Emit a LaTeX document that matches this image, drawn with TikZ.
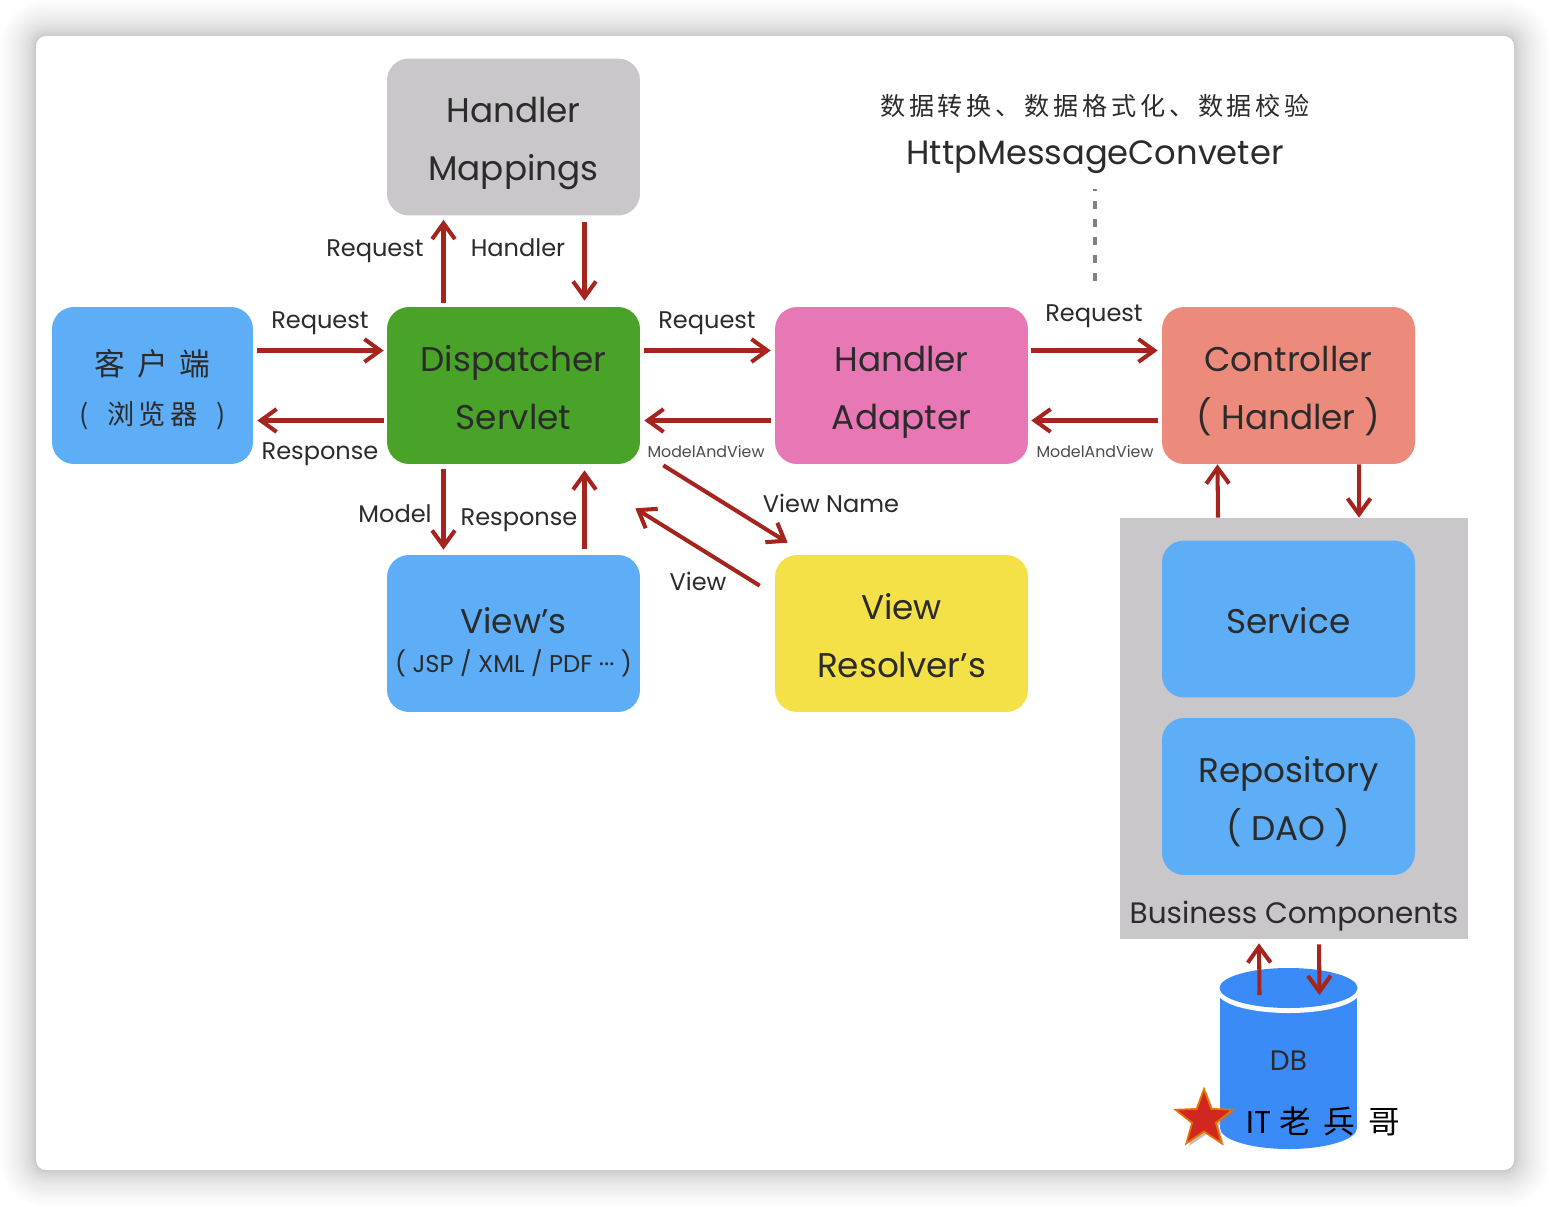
\documentclass[tikz,border=0pt]{standalone}
\usepackage{fontspec}
\setmainfont{Poppins}
\newfontfamily\cjk[LetterSpace=15]{Noto Sans CJK SC}
\usetikzlibrary{calc,arrows.meta,shapes.geometric,shadows}
\definecolor{boxgray}{HTML}{C9C7C9}
\definecolor{boxblue}{HTML}{5EAEF7}
\definecolor{boxgreen}{HTML}{4AA329}
\definecolor{boxpink}{HTML}{E878B5}
\definecolor{boxsalmon}{HTML}{EC8A7C}
\definecolor{boxyellow}{HTML}{F4E047}
\definecolor{dbblue}{HTML}{3A8BF7}
\definecolor{linkred}{HTML}{A5241E}
\definecolor{inkdark}{HTML}{2B2B2B}
\newcommand{\bl}{\rule[-5.4pt]{0pt}{27.4pt}}
\tikzset{
  box/.style={rounded corners=.44cm, minimum width=5.06cm, minimum height=3.14cm, inner sep=0,
    align=center, text=inkdark, font=\fontsize{19.5}{33}\selectfont},
  lab/.style={inner sep=0, text=inkdark, text height=11pt, text depth=2pt, font=\fontsize{13.7}{15}\selectfont},
  tinylab/.style={inner sep=0, text=inkdark!85, font=\fontsize{9}{10}\selectfont},
  link/.style={draw=linkred, line width=2.3pt, -{Straight Barb[length=9pt,width=13pt,line width=2.3pt]}}
}
\begin{document}
\begin{tikzpicture}[x=.02cm,y=-.02cm]
\useasboundingbox (0,0) rectangle (1550,1206);
\foreach \i [evaluate=\i as \r using 36*(\i/30)^2, evaluate=\i as \rc using .2+.02*36*(\i/30)^2] in {1,...,30} {
 \fill[black, opacity=.0075, rounded corners=\rc cm] ({36-\r},{36-\r}) rectangle ({1514+\r},{1170+\r});
}
\fill[white, rounded corners=.2cm] (36,36) rectangle (1514,1170);

\node[box, fill=boxgray] (HM) at (513.5,137) {\bl Handler\\\bl Mappings};
\node[box, fill=boxblue, minimum width=4.02cm] (client) at (152.5,385.5) {\bl{\fontsize{17.5}{33}\selectfont\cjk 客 户 端}\\[-5pt]\bl{\fontsize{15.5}{33}\selectfont\cjk (\hspace{5pt} 浏览器 \hspace{5pt})}};
\node[box, fill=boxgreen] (DS) at (513.5,385.5) {\bl Dispatcher\\\bl Servlet};
\node[box, fill=boxpink] (HA) at (901.5,385.5) {\bl Handler\\\bl Adapter};
\node[box, fill=boxsalmon] (ctrl) at (1288.5,385.5) {\bl Controller\\\bl( Handler )};
\node[box, fill=boxblue, font=\fontsize{19.5}{20}\selectfont] (views) at (513.5,633.5) {\rule{0pt}{25pt}View's\\[2pt]{\fontsize{13.8}{13}\selectfont ( JSP / XML / PDF ··· )}};
\node[box, fill=boxyellow] (VR) at (901.5,633.5) {\bl View\\\bl Resolver's};
\node[fill=boxgray, minimum width=6.96cm, minimum height=8.42cm, inner sep=0] (biz) at (1294,728.5) {};
\node[box, fill=boxblue] (service) at (1288.5,619) {\bl Service};
\node[box, fill=boxblue] (repo) at (1288.5,796.5) {\bl Repository\\\bl( DAO )};
\node[lab, font=\fontsize{16.8}{18}\selectfont] (bizlab) at (1294,916) {Business Components};

\fill[dbblue] (1220,998) rectangle (1357,1128);
\fill[dbblue] (1288.5,1128) ellipse [x radius=68.5, y radius=21];
\fill[white] (1288.5,992) ellipse [x radius=71, y radius=21];
\node[ellipse, fill=dbblue, minimum width=2.76cm, minimum height=.8cm, inner sep=0] (DBtop) at (1288.5,988) {};
\node[lab, font=\fontsize{16}{18}\selectfont] (DB) at (1288.5,1063) {DB};
\node[star, star points=5, star point ratio=2.4, minimum size=1.2cm, inner sep=0, fill={rgb,255:red,208;green,40;blue,30},
  draw=orange!90!black, line width=1pt, drop shadow={shadow xshift=1.5pt, shadow yshift=-1.5pt, opacity=.5}] (star) at (1204,1119) {};
\node[inner sep=0, text=black, font=\fontsize{18}{20}\selectfont] (brand) at (1323,1121) {IT {\cjk\addfontfeature{LetterSpace=40}老兵哥}};

\node[inner sep=0, text=inkdark, font=\fontsize{14.3}{16}\selectfont] (notes) at (1095,106) {\cjk 数据转换、数据格式化、数据校验};
\node[inner sep=0, text=inkdark, font=\fontsize{19.2}{22}\selectfont] (conv) at (1095,157) {HttpMessageConveter};
\coordinate (dashend) at (1095,281);
\draw[gray, line width=2pt, dash pattern=on 4.5pt off 5.7pt, dash phase=3.3pt] ($(conv)+(0,32)$) -- (dashend);

\draw[link] ($(DS.north)+(-70,-4)$) -- ($(HM.south)+(-70,4)$);
\draw[link] ($(HM.south)+(71,6)$) -- ($(DS.north)+(71,-6)$);
\draw[link] ($(client.east)+(4,-35)$) -- ($(DS.west)+(-3,-35)$);
\draw[link] ($(DS.west)+(-3,35)$) -- ($(client.east)+(4,35)$);
\draw[link] ($(DS.east)+(4,-35)$) -- ($(HA.west)+(-4,-35)$);
\draw[link] ($(HA.west)+(-4,35)$) -- ($(DS.east)+(4,35)$);
\draw[link] ($(HA.east)+(3,-35)$) -- ($(ctrl.west)+(-4,-35)$);
\draw[link] ($(ctrl.west)+(-4,35)$) -- ($(HA.east)+(3,35)$);
\draw[link] ($(DS.south)+(-70,5)$) -- ($(views.north)+(-70,-5)$);
\draw[link] ($(views.north)+(71,-6)$) -- ($(DS.south)+(71,6)$);
\draw[link] ($(DS.south east)+(23,1)$) -- ($(VR.north west)+(13,-12)$);
\draw[link] ($(VR.north west)+(-15,31)$) -- ($(DS.south east)+(-5,44)$);
\draw[link] ($(biz.north)+(-76,0)$) -- ($(ctrl.south)+(-71,0)$);
\draw[link] ($(ctrl.south)+(70.5,0)$) -- ($(biz.north)+(65,0)$);
\draw[link] ($(DBtop)+(-29,7)$) -- ($(biz.south)+(-35,4)$);
\draw[link] ($(biz.south)+(25,5)$) -- ($(DBtop)+(31,7)$);

\node[lab] (l1) at (375,249) {Request};
\node[lab] (l2) at (518,249) {Handler};
\node[lab] (l3) at (320,321) {Request};
\node[lab] (l4) at (320,452) {Response};
\node[lab] (l5) at (707,321) {Request};
\node[tinylab] (l6) at (706,452) {ModelAndView};
\node[lab] (l7) at (1094,314) {Request};
\node[tinylab] (l8) at (1095,452) {ModelAndView};
\node[lab] (l9) at (395,515) {Model};
\node[lab] (l10) at (519,518) {Response};
\node[lab] (l11) at (831,505) {View Name};
\node[lab] (l12) at (698,583) {View};
\end{tikzpicture}
\end{document}
